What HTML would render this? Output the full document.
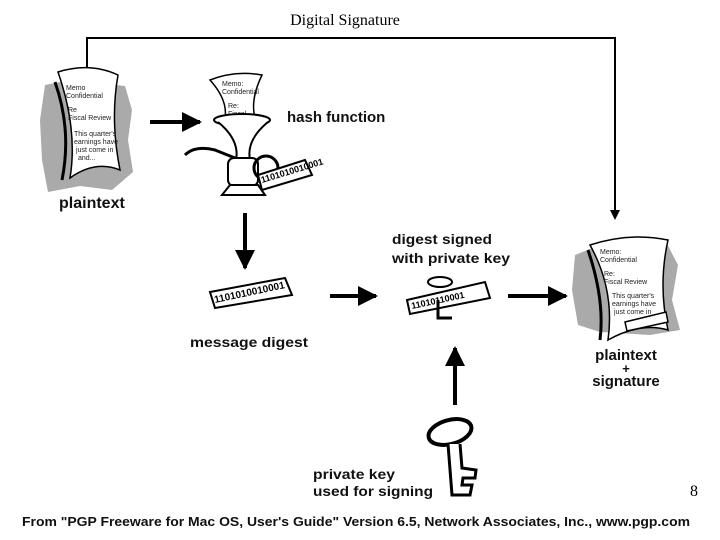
<!DOCTYPE html>
<html><head><meta charset="utf-8"><style>
html,body{margin:0;padding:0;background:#fff;width:720px;height:540px;overflow:hidden}
svg{display:block}
.b{font-family:"Liberation Sans",Arial,sans-serif;font-weight:bold;fill:#111}
.s{font-family:"Liberation Sans",Arial,sans-serif;font-size:7px;fill:#222}
</style></head><body>
<svg width="720" height="540" viewBox="0 0 720 540" xmlns="http://www.w3.org/2000/svg">
<defs>
<marker id="a" markerWidth="10" markerHeight="10" refX="8" refY="5" orient="auto" markerUnits="userSpaceOnUse"><path d="M0,0 L10,5 L0,10z" fill="#000"/></marker>
<marker id="A" markerWidth="20" markerHeight="20" refX="18" refY="10" orient="auto" markerUnits="userSpaceOnUse"><path d="M0,0 L20,10 L0,20z" fill="#000"/></marker>
</defs>
<text x="345" y="25" text-anchor="middle" font-family="Liberation Serif,serif" font-size="16">Digital Signature</text>
<polyline points="87,70 87,38 615,38 615,218" fill="none" stroke="#000" stroke-width="2" marker-end="url(#a)"/>
<path d="M45,85 L70,80 L125,86 L132,110 L128,140 L133,172 L112,190 L80,186 L48,192 L42,160 L40,120z" fill="#aaa"/>
<path d="M58,72 Q90,62 118,75 Q110,120 120,170 Q95,160 70,178 Q78,130 58,72z" fill="#fff" stroke="#000" stroke-width="1.5"/>
<path d="M55,82 Q72,130 62,180" fill="none" stroke="#000" stroke-width="3"/>
<text class="s" x="66" y="90">Memo</text><text class="s" x="66" y="98">Confidential</text>
<text class="s" x="68" y="112">Re</text><text class="s" x="68" y="120">Fiscal Review</text>
<text class="s" x="74" y="136">This quarter's</text><text class="s" x="74" y="144">earnings have</text><text class="s" x="76" y="152">just come in</text><text class="s" x="78" y="160">and...</text>
<text class="b" x="59" y="208" font-size="16">plaintext</text>
<line x1="150" y1="122" x2="200" y2="122" stroke="#000" stroke-width="4" marker-end="url(#A)"/>
<path d="M210,80 Q235,70 262,75 Q250,100 255,118 L225,118 Q228,100 210,80z" fill="#fff" stroke="#000" stroke-width="1.5"/>
<text class="s" x="222" y="86">Memo:</text><text class="s" x="222" y="94">Confidential</text><text class="s" x="228" y="108">Re:</text><text class="s" x="228" y="116">Fiscal</text>
<ellipse cx="242" cy="120" rx="28" ry="6" fill="#fff" stroke="#000" stroke-width="2"/>
<path d="M218,122 Q240,140 236,160 L250,160 Q246,140 268,122" fill="#fff" stroke="#000" stroke-width="2"/>
<path d="M185,155 Q195,145 215,150 L240,160" fill="none" stroke="#000" stroke-width="3"/>
<rect x="228" y="158" width="30" height="28" rx="6" fill="#fff" stroke="#000" stroke-width="2"/>
<path d="M222,195 L265,195 L258,185 L230,185z" fill="#fff" stroke="#000" stroke-width="2"/>
<circle cx="266" cy="168" r="12" fill="none" stroke="#000" stroke-width="3"/>
<path d="M258,175 L305,160 L312,175 L262,190z" fill="#fff" stroke="#000" stroke-width="2"/>
<text x="262" y="183" font-family="Liberation Sans,sans-serif" font-size="9" font-weight="bold" transform="rotate(-17 262 183)">1101010010001</text>
<text class="b" x="287" y="122" font-size="15">hash function</text>
<line x1="245" y1="213" x2="245" y2="268" stroke="#000" stroke-width="4" marker-end="url(#A)"/>
<path d="M210,292 L285,278 L292,295 L215,308z" fill="#fff" stroke="#000" stroke-width="2"/>
<text x="215" y="303" font-family="Liberation Sans,sans-serif" font-size="10" font-weight="bold" transform="rotate(-12 215 303)">1101010010001</text>
<text class="b" x="190" y="347" font-size="14" textLength="118" lengthAdjust="spacingAndGlyphs">message digest</text>
<line x1="330" y1="296" x2="376" y2="296" stroke="#000" stroke-width="4" marker-end="url(#A)"/>
<text class="b" x="392" y="244" font-size="14" textLength="100" lengthAdjust="spacingAndGlyphs">digest signed</text>
<text class="b" x="392" y="263" font-size="14" textLength="118" lengthAdjust="spacingAndGlyphs">with private key</text>
<ellipse cx="440" cy="282" rx="12" ry="5" fill="none" stroke="#000" stroke-width="2"/>
<path d="M407,300 L485,282 L490,298 L410,314z" fill="#fff" stroke="#000" stroke-width="2"/>
<text x="412" y="309" font-family="Liberation Sans,sans-serif" font-size="9" font-weight="bold" transform="rotate(-12 412 309)">11010110001</text>
<path d="M438,300 L438,318 L452,318" fill="none" stroke="#000" stroke-width="3"/>
<line x1="508" y1="296" x2="566" y2="296" stroke="#000" stroke-width="4" marker-end="url(#A)"/>
<path d="M575,255 L600,245 L665,240 L678,265 L672,300 L680,330 L650,335 L600,332 L578,325 L572,290z" fill="#aaa"/>
<path d="M590,245 Q630,232 668,240 Q658,285 668,330 Q640,322 608,340 Q615,290 590,245z" fill="#fff" stroke="#000" stroke-width="1.5"/>
<path d="M588,250 Q605,300 600,340" fill="none" stroke="#000" stroke-width="3"/>
<text class="s" x="600" y="254">Memo:</text><text class="s" x="600" y="262">Confidential</text>
<text class="s" x="604" y="276">Re:</text><text class="s" x="604" y="284">Fiscal Review</text>
<text class="s" x="612" y="298">This quarter's</text><text class="s" x="612" y="306">earnings have</text><text class="s" x="614" y="314">just come in</text>
<path d="M625,322 L666,312 L668,322 L627,331z" fill="#fff" stroke="#000" stroke-width="1.5"/>
<text class="b" x="626" y="360" font-size="15" text-anchor="middle">plaintext</text>
<text class="b" x="626" y="373" font-size="13" text-anchor="middle">+</text>
<text class="b" x="626" y="386" font-size="15" text-anchor="middle">signature</text>
<line x1="455" y1="405" x2="455" y2="348" stroke="#000" stroke-width="4" marker-end="url(#A)"/>
<ellipse cx="450" cy="432" rx="22" ry="12" fill="none" stroke="#000" stroke-width="4" transform="rotate(-15 450 432)"/>
<path d="M448,444 L452,495 L470,495 L472,485 L462,485 L463,478 L475,478 L476,470 L462,468 L460,444" fill="#fff" stroke="#000" stroke-width="3"/>
<text class="b" x="313" y="479" font-size="14" textLength="82" lengthAdjust="spacingAndGlyphs">private key</text>
<text class="b" x="313" y="496" font-size="14" textLength="120" lengthAdjust="spacingAndGlyphs">used for signing</text>
<text x="690" y="496" font-family="Liberation Serif,serif" font-size="16">8</text>
<text class="b" x="22" y="526" font-size="13" textLength="668" lengthAdjust="spacingAndGlyphs">From "PGP Freeware for Mac OS, User's Guide" Version 6.5, Network Associates, Inc., www.pgp.com</text>
</svg>
</body></html>
